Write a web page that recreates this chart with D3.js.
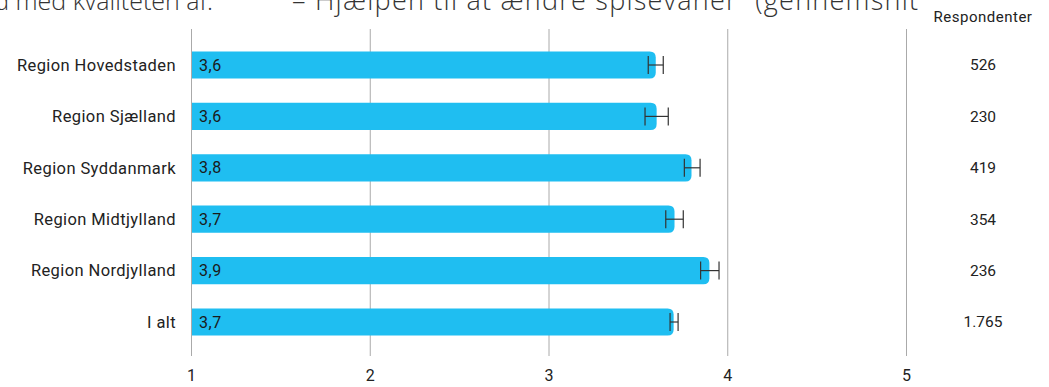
<!DOCTYPE html>
<html><head><meta charset="utf-8">
<script src="https://cdn.jsdelivr.net/npm/d3@7"></script>
<style>body{margin:0;background:#fff;}svg{display:block;}</style>
</head><body>
<svg id="c" width="1049" height="387"></svg>
<script>
const categories = ["Region Hovedstaden","Region Sjælland","Region Syddanmark","Region Midtjylland","Region Nordjylland","I alt"];
const means = [3.60, 3.605, 3.80, 3.705, 3.90, 3.70];
const lowCI = [3.558, 3.54, 3.76, 3.656, 3.851, 3.68];
const highCI = [3.642, 3.67, 3.848, 3.754, 3.954, 3.725];
const meanLabels = ["3,6","3,6","3,8","3,7","3,9","3,7"];
const respondents = ["526","230","419","354","236","1.765"];
const xTicks = [1,2,3,4,5];
const titleA = "Tilfredshed med kvaliteten af:";
const titleB = "– Hjælpen til at ændre spisevaner” (gennemsnit";
const respHeader = "Respondenter";

const svg = d3.select("#c");
const font = "Roboto, 'Noto Sans', sans-serif";
const x = d3.scaleLinear().domain([1,5]).range([191,906]);
const y = d3.scaleBand().domain(categories).range([39.3,347.7]).paddingInner(0.47).paddingOuter(0.235);

// title (clipped at top)
svg.append("text").attr("x",213).attr("y",10).attr("text-anchor","end")
  .attr("font-family","'Open Sans', sans-serif").attr("font-weight",300).attr("font-size",25).attr("fill","#333").text(titleA);
svg.append("text").attr("x",292).attr("y",10).attr("text-anchor","start")
  .attr("font-family","'Open Sans', sans-serif").attr("font-weight",300).attr("font-size",27).attr("fill","#333")
  .attr("textLength",626).attr("lengthAdjust","spacing").text(titleB);

// gridlines via axis
const axis = d3.axisBottom(x).tickValues(xTicks).tickFormat(d=>d).tickSize(-(356-29)).tickPadding(10);
const gAx = svg.append("g").attr("transform","translate(0,356)").call(axis);
gAx.select(".domain").remove();
gAx.selectAll(".tick line").attr("stroke","#aaa").attr("stroke-width",1);
gAx.selectAll(".tick text").attr("font-family",font).attr("font-size",16).attr("fill","#222").attr("dy","0.95em");

// bars with rounded right corners
const r = 6;
function barPath(x0,x1,y0,h){
  return `M${x0},${y0}H${x1-r}Q${x1},${y0} ${x1},${y0+r}V${y0+h-r}Q${x1},${y0+h} ${x1-r},${y0+h}H${x0}Z`;
}
const rows = categories.map((c,i)=>({c,m:means[i],lo:lowCI[i],hi:highCI[i],lab:meanLabels[i],n:respondents[i]}));
svg.append("g").selectAll("path").data(rows).join("path")
  .attr("d",d=>barPath(x(1)+1,x(d.m),y(d.c),y.bandwidth()))
  .attr("fill","#1FBEF1");

// error bars
const eb = svg.append("g").attr("stroke","#333").attr("stroke-width",1.2).attr("fill","none");
rows.forEach(d=>{
  const cy = y(d.c)+y.bandwidth()/2, ch=9;
  eb.append("line").attr("x1",x(d.lo)).attr("x2",x(d.hi)).attr("y1",cy).attr("y2",cy);
  eb.append("line").attr("x1",x(d.lo)).attr("x2",x(d.lo)).attr("y1",cy-ch).attr("y2",cy+ch);
  eb.append("line").attr("x1",x(d.hi)).attr("x2",x(d.hi)).attr("y1",cy-ch).attr("y2",cy+ch);
});

// value labels
svg.append("g").selectAll("text").data(rows).join("text")
  .attr("x",x(1)+8).attr("y",d=>y(d.c)+y.bandwidth()/2).attr("dy","0.35em")
  .attr("font-family",font).attr("font-size",16).attr("letter-spacing",0.5).attr("fill","#1a1a1a").text(d=>d.lab);

// category labels
svg.append("g").selectAll("text").data(rows).join("text")
  .attr("x",176).attr("y",d=>y(d.c)+y.bandwidth()/2).attr("dy","0.35em").attr("text-anchor","end")
  .attr("font-family",font).attr("font-size",16.5).attr("letter-spacing",0.4).attr("fill","#222").text(d=>d.c);

// respondents column
svg.append("text").attr("x",983).attr("y",22).attr("text-anchor","middle")
  .attr("font-family",font).attr("font-size",15).attr("letter-spacing",0.5).attr("fill","#222").text(respHeader);
svg.append("g").selectAll("text").data(rows).join("text")
  .attr("x",983).attr("y",d=>y(d.c)+y.bandwidth()/2).attr("dy","0.35em").attr("text-anchor","middle")
  .attr("font-family",font).attr("font-size",15.5).attr("fill","#222").text(d=>d.n);
</script>
</body></html>
